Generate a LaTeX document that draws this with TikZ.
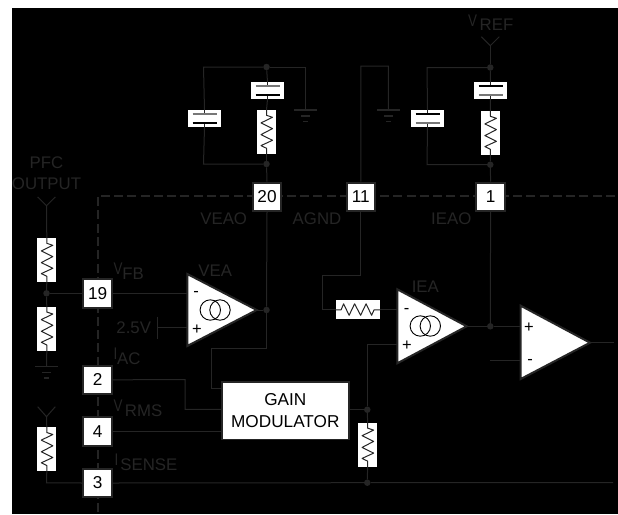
\documentclass[tikz,border=0pt]{standalone}
\usepackage{graphicx}
\usepackage{fontspec}
\setmainfont{Liberation Sans}
\definecolor{dk}{HTML}{252525}
\definecolor{pl}{HTML}{777777}
\newcommand{\fsz}{\fontsize{16.8}{19}\selectfont}
\newcommand{\vsub}[3]{\scalebox{.8}[1]{#1}\kern#3pt\raisebox{-5pt}{#2}}
\tikzset{
  wire/.style={draw=dk,line width=1pt},
  zig/.style={draw=black!85,line width=1pt,line join=round},
  pin/.style={draw=dk,line width=2pt,fill=white,minimum width=28.5pt,minimum height=28.5pt,inner sep=0pt,text=black,font=\fontsize{17.2}{19}\selectfont},
  dot/.style={circle,fill=dk,minimum size=6.5pt,inner sep=0pt},
  lbl/.style={text=dk,font=\fsz,inner sep=0pt},
  blbl/.style={text=black,font=\fontsize{16.5}{19}\selectfont,inner sep=0pt},
  whitebox/.style={fill=white,inner sep=0pt},
  tri/.style={draw=dk,line width=2pt,fill=white,line join=miter},
  ring/.style={draw=black,line width=.9pt},
  gndbar/.style={draw=dk,line width=1.4pt},
  dash line/.style={draw=dk,line width=2pt,dash pattern=on 9pt off 4.3pt},
}
\newcommand{\vres}[3]{%
  \node[whitebox,minimum width=19pt,minimum height=44pt] (#1) at (#2,#3) {};
  \draw[zig] (#1.north) -- ++(0,5.5) -- ++(6,2) -- ++(-11.5,5.6) -- ++(11.5,5.7) -- ++(-11.5,6) -- ++(11.5,5.7) -- ++(-11.5,5.3) -- ++(5.5,2.7) -- (#1.south);}
\newcommand{\hres}[3]{%
  \node[whitebox,minimum width=44pt,minimum height=19pt] (#1) at (#2,#3) {};
  \draw[zig] (#1.west) -- ++(5.5,0) -- ++(2.5,-6) -- ++(5.5,11.5) -- ++(5.5,-11.5) -- ++(6,11.5) -- ++(5.5,-11.5) -- ++(5.5,11.5) -- ++(2.5,-5.5) -- (#1.east);}
\newcommand{\capa}[5]{%
  \node[whitebox,minimum width=33pt,minimum height=17pt] (#1) at (#2,#3) {};
  \draw[zig] (#1.north) -- ++(0,3.5);
  \draw[zig] (#1.south) -- ++(0,-3.5);
  \draw[draw=#4,line width=1.4pt] ([xshift=-12pt,yshift=4.6pt]#1.center) -- ([xshift=12pt,yshift=4.6pt]#1.center);
  \draw[draw=#5,line width=1.4pt] ([xshift=-12pt,yshift=-4.6pt]#1.center) -- ([xshift=12pt,yshift=-4.6pt]#1.center);}
\newcommand{\gnd}[3]{%
  \coordinate (#1) at (#2,#3);
  \draw[gndbar] ([xshift=-11.5pt]#1) -- ([xshift=11.5pt]#1);
  \draw[gndbar] ([xshift=-4.5pt,yshift=-6pt]#1) -- ([xshift=4.5pt,yshift=-6pt]#1);
  \draw[gndbar] ([xshift=-2.2pt,yshift=-11.5pt]#1) -- ([xshift=2.2pt,yshift=-11.5pt]#1);}
\begin{document}
\begin{tikzpicture}[x=1pt,y=-1pt]
\useasboundingbox (0,0) rectangle (618,514);
\fill[white] (0,0) rectangle (618,514);
\fill[black] (12,8) rectangle (618,514);
% package boundary
\coordinate (bcorner) at (97.7,195.7);
\coordinate (bright) at (615,195.7);
\coordinate (bbottom) at (97.7,514);
\draw[dash line] (bright) -- (bcorner) -- (bbottom);
% pins
\node[pin] (p20) at (267,196.9) {20};
\node[pin] (p11) at (360.8,196.9) {11};
\node[pin] (p1) at (490.6,196.9) {1};
\node[pin] (p19) at (97.7,293.3) {19};
\node[pin] (p2) at (97.7,379.8) {2};
\node[pin] (p4) at (97.7,431.3) {4};
\node[pin] (p3) at (97.7,483) {3};
% gain modulator
\node[draw=dk,line width=1.5pt,fill=white,minimum width=127pt,minimum height=57.5pt,inner sep=0pt,align=center,text=black,font=\fontsize{17.2}{21.5}\selectfont] (gm) at (285.3,410.7) {GAIN\\MODULATOR};
% passive parts
\capa{c1}{204.5}{118.5}{pl}{black}
\capa{c2}{267.5}{90.5}{pl}{black}
\vres{r2}{266.5}{132}
\capa{c3}{427.5}{118.5}{black}{pl}
\capa{c4}{490.5}{90.5}{black}{pl}
\vres{r4}{490.4}{133}
\vres{r1}{46.8}{260}
\vres{r5}{46.8}{328.7}
\vres{r6}{46.8}{449.2}
\vres{r7}{367.6}{444.8}
\hres{r3}{357.8}{309.8}
% junctions
\node[dot] (j1) at (266.5,67) {};
\node[dot] (j2) at (266.5,164) {};
\node[dot] (j3) at (490.3,67.5) {};
\node[dot] (j4) at (490.3,164.7) {};
\node[dot] (j5) at (46.5,293.3) {};
\node[dot] (j6) at (266.5,310) {};
\node[dot] (j7) at (490.3,326.3) {};
\node[dot] (j8) at (367.3,409.7) {};
\node[dot] (j9) at (367.3,482.7) {};
% grounds
\gnd{g1}{305.5}{110}
\gnd{g2}{388.5}{110}
\gnd{g3}{46.5}{366.3}
% corners and free ends
\coordinate (tlA) at (203.5,67);
\coordinate (tlB) at (203.5,164);
\coordinate (trA) at (427,67.5);
\coordinate (trB) at (427,164.7);
\coordinate (g1top) at (305.5,67);
\coordinate (a1) at (360.8,66);
\coordinate (a2) at (388.3,66);
\coordinate (b1) at (360.8,275.7);
\coordinate (b2) at (322.7,275.7);
\coordinate (b3) at (322.7,309.8);
\coordinate (veaN) at (187.3,293.3);
\coordinate (veaP) at (187.3,327.3);
\coordinate (veaT) at (256.7,310);
\coordinate (veaTop) at (187.3,274);
\coordinate (veaBot) at (187.3,346);
\coordinate (ieaN) at (397.3,309.8);
\coordinate (ieaP) at (397.3,344);
\coordinate (ieaT) at (466.7,326.3);
\coordinate (ieaTop) at (397.3,289.3);
\coordinate (ieaBot) at (397.3,363.3);
\coordinate (cmpP) at (520.7,326.3);
\coordinate (cmpN) at (520.7,360);
\coordinate (cmpT) at (590,342.7);
\coordinate (cmpTop) at (520.7,305.7);
\coordinate (cmpBot) at (520.7,379);
\coordinate (cmpOut) at (614,342.7);
\coordinate (cmpNend) at (490,360);
\coordinate (busEnd) at (613,482.7);
\coordinate (ref25) at (157,327.3);
\coordinate (ref25a) at (157,316.7);
\coordinate (ref25b) at (157,339.3);
\coordinate (fbA) at (266.5,348);
\coordinate (fbB) at (211.3,348);
\coordinate (fbC) at (211.3,388.3);
\coordinate (fbD) at (221.7,388.3);
\coordinate (iaA) at (185,379.6);
\coordinate (iaB) at (185,409.3);
\coordinate (iaC) at (221.7,409.3);
\coordinate (rmsC) at (221.7,431.3);
\coordinate (gmR) at (349,409.7);
\coordinate (ipT) at (367.3,344);
\coordinate (bus1) at (46.5,482.8);
\coordinate (y1) at (46.5,205.7);
\coordinate (y1l) at (37.7,197);
\coordinate (y1r) at (55.3,197);
\coordinate (y2) at (46.5,416.7);
\coordinate (y2l) at (37.7,406.7);
\coordinate (y2r) at (55.3,406.7);
\coordinate (y3) at (490.3,45.7);
\coordinate (y3l) at (481.3,36.7);
\coordinate (y3r) at (499.3,36.7);
% wires
\draw[wire] (j1) -- (tlA) -- (c1.north);
\draw[wire] (c1.south) -- (tlB) -- (j2);
\draw[wire] (j1) -- (g1top) -- (g1);
\draw[wire] (j1) -- (c2.north);
\draw[wire] (c2.south) -- (r2.north);
\draw[wire] (r2.south) -- (j2);
\draw[wire] (j2) -- (p20.north);
\draw[wire] (p11.north) -- (a1) -- (a2) -- (g2);
\draw[wire] (y3) -- (j3);
\draw[wire] (y3l) -- (y3) -- (y3r);
\draw[wire] (j3) -- (trA) -- (c3.north);
\draw[wire] (c3.south) -- (trB) -- (j4);
\draw[wire] (j3) -- (c4.north);
\draw[wire] (c4.south) -- (r4.north);
\draw[wire] (r4.south) -- (j4);
\draw[wire] (j4) -- (p1.north);
\draw[wire] (y1l) -- (y1) -- (y1r);
\draw[wire] (y1) -- (r1.north);
\draw[wire] (r1.south) -- (j5);
\draw[wire] (j5) -- (r5.north);
\draw[wire] (r5.south) -- (g3);
\draw[wire] (j5) -- (p19.west);
\draw[wire] (p19.east) -- (veaN);
\draw[wire] (ref25a) -- (ref25b);
\draw[wire] (ref25) -- (veaP);
\draw[wire] (veaT) -- (j6);
\draw[wire] (p20.south) -- (j6);
\draw[wire] (j6) -- (fbA) -- (fbB) -- (fbC) -- (fbD);
\draw[wire] (p2.east) -- (iaA) -- (iaB) -- (iaC);
\draw[wire] (p4.east) -- (rmsC);
\draw[wire] (gmR) -- (j8);
\draw[wire] (j8) -- (ipT) -- (ieaP);
\draw[wire] (j8) -- (r7.north);
\draw[wire] (r7.south) -- (j9);
\draw[wire] (y2l) -- (y2) -- (y2r);
\draw[wire] (y2) -- (r6.north);
\draw[wire] (r6.south) -- (bus1) -- (p3.west);
\draw[wire] (p3.east) -- (j9) -- (busEnd);
\draw[wire] (p11.south) -- (b1) -- (b2) -- (b3) -- (r3.west);
\draw[wire] (r3.east) -- (ieaN);
\draw[wire] (p1.south) -- (j7);
\draw[wire] (ieaT) -- (j7) -- (cmpP);
\draw[wire] (cmpNend) -- (cmpN);
\draw[wire] (cmpT) -- (cmpOut);
% amplifiers
\draw[tri] (veaTop) -- (veaT) -- (veaBot) -- cycle;
\draw[tri] (ieaTop) -- (ieaT) -- (ieaBot) -- cycle;
\draw[tri] (cmpTop) -- (cmpT) -- (cmpBot) -- cycle;
\draw[ring] (210.3,310) circle (10.2);
\draw[ring] (220,310) circle (10.2);
\draw[ring] (420.3,326) circle (10.2);
\draw[ring] (430.3,326) circle (10.2);
\node[blbl] (veam) at (196,293.7) {-};
\node[blbl] (veap) at (197,329.7) {+};
\node[blbl] (ieam) at (406.7,311) {-};
\node[blbl] (ieap) at (407,346) {+};
\node[blbl] (cmpp) at (529,328) {+};
\node[blbl] (cmpm) at (530,362) {-};
% labels
\node[lbl] (tpfc) at (46.5,163) {PFC};
\node[lbl] (tout) at (46.5,184) {OUTPUT};
\node[lbl] (tveao) at (223.7,219) {VEAO};
\node[lbl] (tagnd) at (317,219) {AGND};
\node[lbl] (tieao) at (451.3,218.7) {IEAO};
\node[lbl] (tvea) at (215.3,270.3) {VEA};
\node[lbl] (tiea) at (425.3,286.7) {IEA};
\node[lbl] (t25) at (133.7,327.3) {2.5V};
\node[lbl,anchor=base west] (tvref) at (468,26) {\vsub{V}{REF}{2.5}};
\node[lbl,anchor=base west] (tvfb) at (113.3,274) {\vsub{V}{FB}{0}};
\node[lbl,anchor=base west] (tiac) at (113.3,359) {\vsub{I}{AC}{0}};
\node[lbl,anchor=base west] (tvrms) at (113.3,411.7) {\vsub{V}{RMS}{2.5}};
\node[lbl,anchor=base west] (tisense) at (114.5,465) {\vsub{I}{SENSE}{2}};
\end{tikzpicture}
\end{document}
